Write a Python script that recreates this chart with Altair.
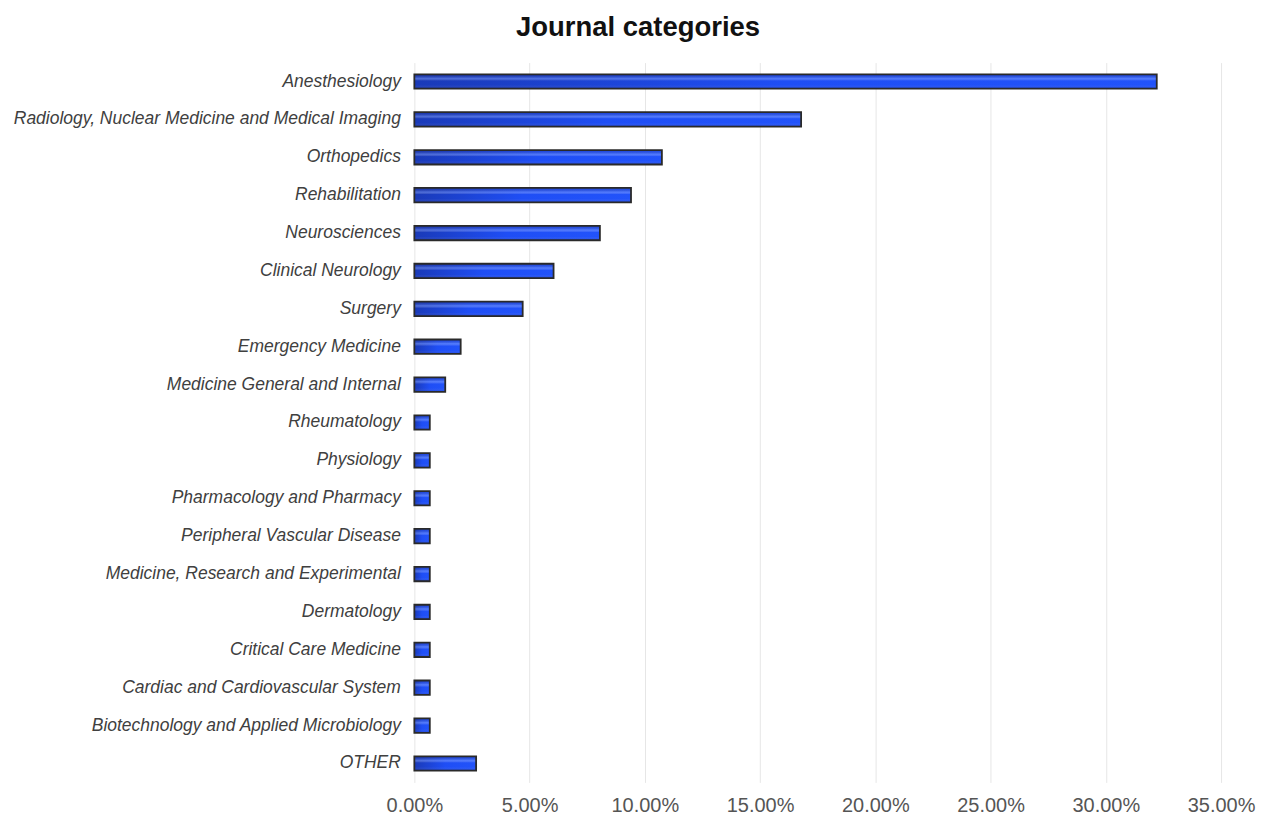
import altair as alt
import pandas as pd

categories = [
    "Anesthesiology",
    "Radiology, Nuclear Medicine and Medical Imaging",
    "Orthopedics",
    "Rehabilitation",
    "Neurosciences",
    "Clinical Neurology",
    "Surgery",
    "Emergency Medicine",
    "Medicine General and Internal",
    "Rheumatology",
    "Physiology",
    "Pharmacology and Pharmacy",
    "Peripheral Vascular Disease",
    "Medicine, Research and Experimental",
    "Dermatology",
    "Critical Care Medicine",
    "Cardiac and Cardiovascular System",
    "Biotechnology and Applied Microbiology",
    "OTHER",
]
shares = [0.3221, 0.1678, 0.1074, 0.0940, 0.0805, 0.0604, 0.0470, 0.0201, 0.0134,
          0.0067, 0.0067, 0.0067, 0.0067, 0.0067, 0.0067, 0.0067, 0.0067, 0.0067, 0.0268]
x_ticks = [0, 0.05, 0.10, 0.15, 0.20, 0.25, 0.30, 0.35]

df = pd.DataFrame({"category": categories, "share": shares})

y_enc = alt.Y("category:N", sort=categories, title=None,
              scale=alt.Scale(paddingInner=0.62, paddingOuter=0.31),
              axis=alt.Axis(labelFont="Liberation Sans", labelFontSize=17.5,
                            labelFontStyle="italic", labelColor="#404040",
                            labelPadding=14, ticks=False, domain=False,
                            grid=False, labelLimit=500))
x_enc = alt.X("share:Q", title=None,
              scale=alt.Scale(domain=[0, 0.35], nice=False),
              axis=alt.Axis(values=x_ticks, format=".2%", labelFont="Liberation Sans",
                            labelFontSize=20, labelColor="#555555", labelPadding=13,
                            labelFlush=False, ticks=False, domain=False, grid=True,
                            gridColor="#e6e6e6", gridWidth=1))

base = alt.Chart(df)

bars = base.mark_bar(
    fill=alt.LinearGradient(gradient="linear", x1=0, y1=0, x2=1, y2=0,
                            stops=[alt.GradientStop(color="#1a3ab8", offset=0),
                                   alt.GradientStop(color="#1f4ef5", offset=0.5),
                                   alt.GradientStop(color="#2253fa", offset=1)]),
).encode(x=x_enc, y=y_enc)

shine = base.mark_bar(
    fill=alt.LinearGradient(gradient="linear", x1=0, y1=0, x2=0, y2=1,
                            stops=[alt.GradientStop(color="rgba(0,0,60,0.10)", offset=0),
                                   alt.GradientStop(color="rgba(140,170,255,0.45)", offset=0.28),
                                   alt.GradientStop(color="rgba(255,255,255,0.0)", offset=0.45),
                                   alt.GradientStop(color="rgba(255,255,255,0.0)", offset=0.75),
                                   alt.GradientStop(color="rgba(0,0,60,0.20)", offset=1)]),
    stroke="#2a2a2a", strokeWidth=1.8,
).encode(x=x_enc, y=y_enc)

chart = alt.layer(bars, shine).properties(
    width=808, height=721,
    view=alt.ViewBackground(stroke="transparent", strokeWidth=0),
    title=alt.TitleParams("Journal categories", font="Liberation Sans", fontSize=27.5,
                          fontWeight="bold", color="#111111", anchor="middle",
                          frame="bounds", offset=21, dx=4),
    autosize=alt.AutoSizeParams(type="none"),
    padding={"left": 407, "top": 54, "right": 40, "bottom": 42},
).configure_view(strokeWidth=0).configure(background="white")

chart.save("out.html", embed_options={"renderer": "svg", "actions": False})
